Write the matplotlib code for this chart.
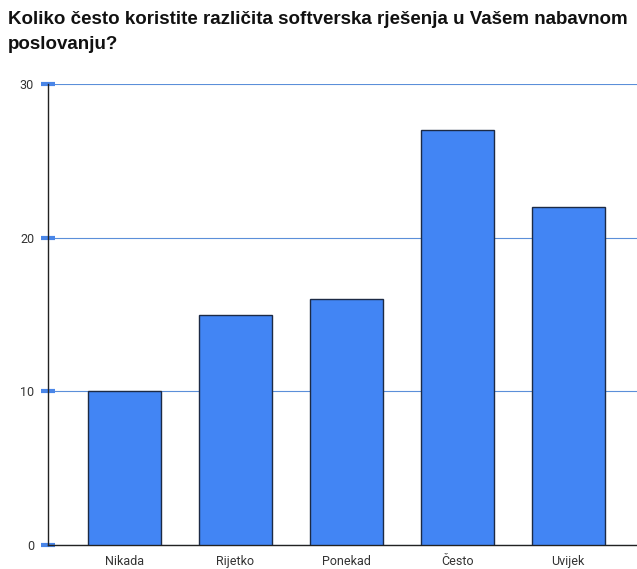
import matplotlib.pyplot as plt

# answers to the survey question
categories = ['Nikada', 'Rijetko', 'Ponekad', 'Često', 'Uvijek']
counts = [10, 15, 16, 27, 22]
y_ticks = [0, 10, 20, 30]

title = 'Koliko često koristite različita softverska rješenja u Vašem nabavnom\nposlovanju?'

fig = plt.figure(figsize=(6.37, 5.69), dpi=100)
ax = fig.add_axes([48 / 637, 1 - 545 / 569, 1 - 48 / 637, (545 - 84) / 569])

x = list(range(len(categories)))
ax.bar(x, counts, width=0.66, color='#4285f4', edgecolor='#1c2a45', linewidth=1.0, zorder=3)

ax.set_xlim(-0.69, 4.62)
ax.set_ylim(0, 30)
ax.set_yticks(y_ticks)
ax.set_yticklabels([str(v) for v in y_ticks])
ax.set_xticks(x)
ax.set_xticklabels(categories)

# horizontal grid only
ax.yaxis.grid(True, color='#5b8fd9', linewidth=0.8, zorder=0)
ax.set_axisbelow(True)

for side in ['top', 'right']:
    ax.spines[side].set_visible(False)
ax.spines['left'].set_color('#222222')
ax.spines['bottom'].set_color('#222222')
ax.spines['left'].set_linewidth(1.0)
ax.spines['bottom'].set_linewidth(1.0)

ax.tick_params(axis='y', length=10, width=3, color='#4a86e8', direction='inout', pad=5,
               labelsize=9, labelcolor='#333333')
ax.tick_params(axis='x', length=0, pad=7, labelsize=9, labelcolor='#333333')
for lbl in ax.get_xticklabels() + ax.get_yticklabels():
    lbl.set_family('Roboto')

fig.text(8 / 637, 1 - 11 / 569, title, ha='left', va='top', fontsize=13.5,
         fontweight='bold', family='Liberation Sans', color='#111111', linespacing=1.6)

fig.savefig('out.png', dpi=100)
